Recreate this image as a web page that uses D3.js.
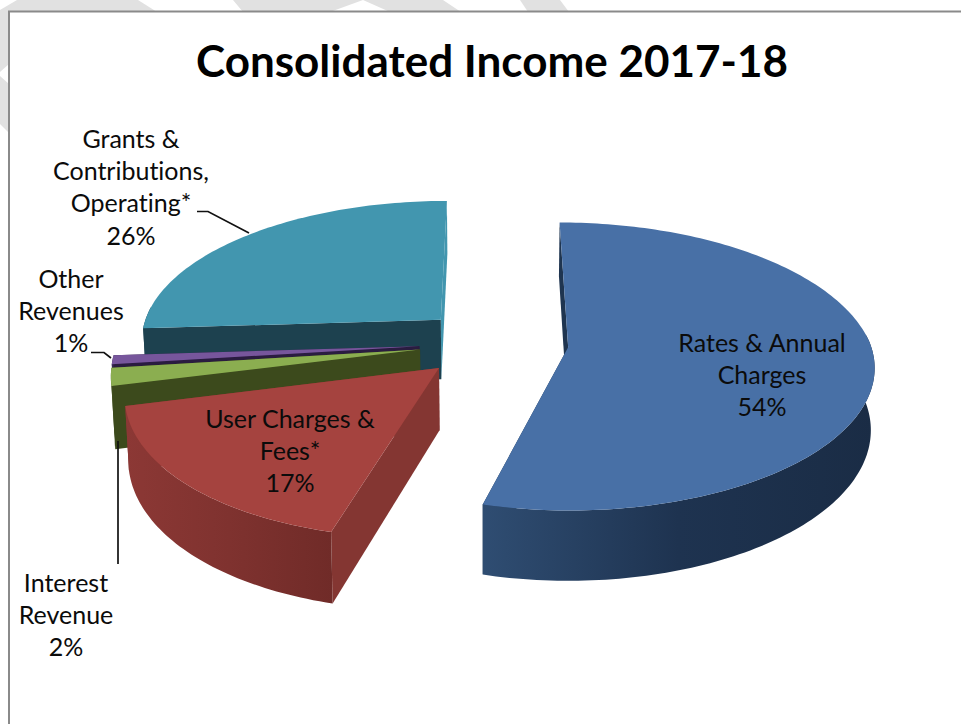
<!DOCTYPE html>
<html>
<head>
<meta charset="utf-8">
<script src="https://cdn.jsdelivr.net/npm/d3@7"></script>
<style>
html,body{margin:0;padding:0;background:#fff}
svg{display:block}
text{font-family:Lato,"Open Sans",sans-serif;fill:#0b0b0b;font-variant-ligatures:none}
</style>
</head>
<body>
<svg id="chart" width="961" height="724"></svg>
<script>
// Income shares, clockwise from twelve o'clock
const categories = ["Rates & Annual Charges", "User Charges & Fees*", "Interest Revenue", "Other Revenues", "Grants & Contributions, Operating*"];
const shares = [54, 17, 2, 1, 26];
const titleText = "Consolidated Income 2017-18";

// Wrapped label lines per category
const labelLines = [
  ["Rates & Annual", "Charges"],
  ["User Charges &", "Fees*"],
  ["Interest", "Revenue"],
  ["Other", "Revenues"],
  ["Grants &", "Contributions,", "Operating*"]
];

// Top, dark radial wall and rim wall gradient stops for each slice
const topColors = ["#4870a6", "#a5433f", "#8bae50", "#77569c", "#4296af"];
const wallColors = ["#1f3550", "#843632", "#3c4a1c", "#2a1c40", "#1d414f"];
const endWallColors = ["#1f3550", "#843632", "#3c4a1c", "#2a1c40", "#4296af"];
const rimStops = [
  ["#2f4d72", "#1e3350", "#1a2c45"],
  ["#8c3835", "#7f322f", "#702b28"],
  ["#4a5c24", "#3c4a1c", "#3c4a1c"],
  ["#3c2a5a", "#2a1c40", "#2a1c40"],
  ["#1d414f", "#1d414f", "#1d414f"]
];

// Label placement: anchor x, first-line centre y
const labelPlaces = [
  {x: 762, y: 343}, {x: 290, y: 419}, {x: 66, y: 583}, {x: 71, y: 279}, {x: 131, y: 139}
];
// Leader lines from label to slice
const leaders = [
  [[197, 211.5], [208, 211.5], [249, 233]],
  [[91, 352.5], [104, 352.5], [111, 358]],
  [[118, 441], [118, 564]]
];

// Page watermark bands, visible only outside the chart frame
const watermark = [
  "M17,0 L138,0 L157,12 L0,12 L0,10 Z",
  "M0,12 L9,12 L9,64 L0,72 Z",
  "M0,76 L9,84 L9,133 L0,124 Z",
  "M233,0 L443,0 L461,12 L390,12 L363,0 L330,12 L243,12 Z",
  "M520,0 L560,0 L569,12 L528,12 Z"
];

// Pie projection parameters
const cx = 494, cy = 343, radius = 302;
const explode = 0.247, tilt = 0.4646, viewDist = 7.56, depth = 66, floorShrink = 0.01;
const nearLeanLinear = 5, nearLeanSquare = 5;

const svg = d3.select("#chart");
const defs = svg.append("defs");

svg.append("g").selectAll("path").data(watermark).join("path")
  .attr("d", d => d).attr("fill", "#e1e1e1");

// Chart frame
svg.append("rect").attr("x", 9).attr("y", 11.5).attr("width", 1000).attr("height", 800)
  .attr("fill", "#fff").attr("stroke", "#8a8a8a").attr("stroke-width", 2);

svg.append("text").attr("x", 492).attr("y", 77).attr("text-anchor", "middle")
  .attr("font-size", 44).attr("font-weight", 700).style("fill", "#000").text(titleText);

// Project a point on the slice disc (angle, radial fraction) to the screen
function project(mid, angle, frac, lowered) {
  const X = explode * Math.sin(mid) + frac * Math.sin(angle);
  const Z = explode * Math.cos(mid) + frac * Math.cos(angle);
  const f = viewDist / (viewDist + Z);
  const shrink = lowered ? 1 - floorShrink : 1;
  const lean = Z < 0 ? nearLeanLinear * -Z + nearLeanSquare * Z * Z : 0;
  return [
    cx + X * radius * f * shrink - lean,
    cy - Z * radius * tilt * f + (lowered ? depth * f * 0.92 : 0)
  ];
}

const pie = d3.pie().sort(null).value(d => d);
const arcs = pie(shares).map((a, i) => ({...a, i, mid: (a.startAngle + a.endAngle) / 2}));
const line = d3.line();

// Sample the rim of a slice, optionally keeping only the part that faces the viewer
function rimPoints(a, lowered, frontOnly) {
  const steps = Math.max(2, Math.ceil((a.endAngle - a.startAngle) / 0.02));
  const angles = d3.range(steps + 1).map(k => a.startAngle + (a.endAngle - a.startAngle) * k / steps);
  return angles.filter(t => !frontOnly || Math.cos(t) < 0.1)
    .map(t => project(a.mid, t, 1, lowered));
}

arcs.forEach(a => {
  const g = defs.append("linearGradient").attr("id", "rim" + a.i);
  rimStops[a.i].forEach((c, k) =>
    g.append("stop").attr("offset", k / 2).attr("stop-color", c));
});

// Painter's order, back slice first: grants, other, interest, user charges, rates
const order = [4, 3, 2, 1, 0];
const slices = svg.append("g").selectAll("g").data(order.map(i => arcs[i])).join("g");

slices.each(function(a) {
  const g = d3.select(this);
  const apexTop = project(a.mid, 0, 0, false), apexLow = project(a.mid, 0, 0, true);
  const wall = angle => [apexTop, project(a.mid, angle, 1, false), project(a.mid, angle, 1, true), apexLow];
  g.append("path").attr("d", line(wall(a.endAngle)) + "Z").attr("fill", endWallColors[a.i]);
  g.append("path").attr("d", line(wall(a.startAngle)) + "Z").attr("fill", wallColors[a.i]);
  const rimTop = rimPoints(a, false, true), rimLow = rimPoints(a, true, true);
  if (rimTop.length > 1) {
    g.append("path").attr("d", line(rimTop.concat(rimLow.reverse())) + "Z").attr("fill", `url(#rim${a.i})`);
  }
  g.append("path").attr("d", line([apexTop].concat(rimPoints(a, false, false))) + "Z").attr("fill", topColors[a.i]);
});

// Leader lines
svg.append("g").selectAll("path").data(leaders).join("path")
  .attr("d", d => line(d)).attr("fill", "none").attr("stroke", "#111").attr("stroke-width", 1.7);

// Category labels with the percentage on the last line
const rowHeight = 32.4;
const labels = svg.append("g").selectAll("text").data(arcs).join("text")
  .attr("text-anchor", "middle").attr("font-size", 25);
labels.each(function(a) {
  const place = labelPlaces[a.i];
  d3.select(this).selectAll("tspan").data(labelLines[a.i].concat(shares[a.i] + "%")).join("tspan")
    .attr("x", place.x).attr("y", (d, k) => place.y + 8.5 + k * rowHeight).text(d => d);
});
</script>
</body>
</html>
